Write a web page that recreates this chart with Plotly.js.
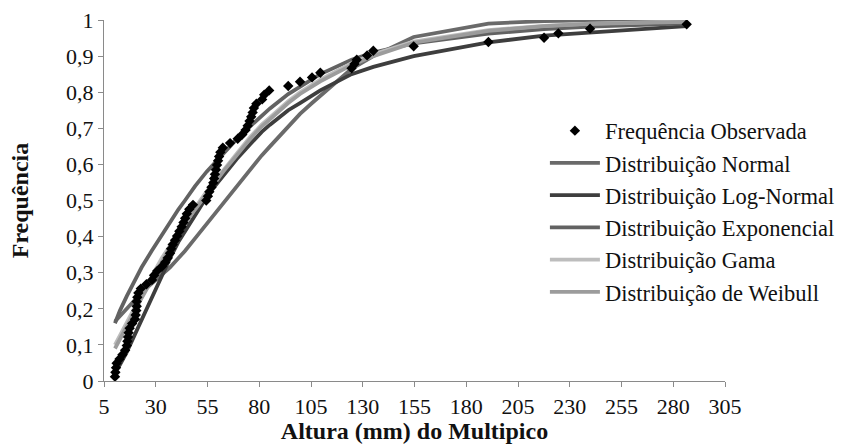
<!DOCTYPE html>
<html>
<head>
<meta charset="utf-8">
<script src="https://cdn.plot.ly/plotly-3.0.1.min.js"></script>
<style>
  html, body { margin: 0; padding: 0; background: #fff; }
  #chart { width: 867px; height: 446px; }
</style>
</head>
<body>
<div id="chart"></div>
<script>
// Observed cumulative frequency of multipico height (mm)
const obsX = [10.3, 10.5, 10.8, 11.1, 12.5, 13.9, 15.2, 16.0, 16.3, 16.6,
              16.9, 17.4, 18.6, 20.0, 20.3, 20.6, 20.8, 20.8, 21.1, 21.6,
              22.8, 25.5, 28.2, 29.2, 30.7, 33.0, 34.6, 35.8, 36.9, 37.4,
              38.2, 39.3, 40.3, 41.4, 42.5, 43.4, 44.2, 45.0, 46.2, 48.0,
              54.4, 55.2, 55.9, 56.9, 57.8, 58.2, 58.6, 59.1, 59.6, 60.1,
              60.6, 61.2, 62.4, 65.9, 69.6, 71.8, 73.4, 74.4, 75.3, 76.1,
              76.8, 77.4, 78.6, 81.4, 82.4, 84.8, 94.0, 99.7, 105.5, 109.5,
              124.6, 126.0, 127.1, 132.1, 135.1, 154.6, 190.7, 217.6, 224.5, 239.8,
              286.5];
const obsY = [0.012, 0.024, 0.037, 0.049, 0.061, 0.073, 0.085, 0.098, 0.110, 0.122,
              0.134, 0.146, 0.159, 0.171, 0.183, 0.195, 0.207, 0.220, 0.232, 0.244,
              0.256, 0.268, 0.280, 0.293, 0.305, 0.317, 0.329, 0.341, 0.354, 0.366,
              0.378, 0.390, 0.402, 0.415, 0.427, 0.439, 0.451, 0.463, 0.476, 0.488,
              0.500, 0.512, 0.524, 0.537, 0.549, 0.561, 0.573, 0.585, 0.598, 0.610,
              0.622, 0.634, 0.646, 0.659, 0.671, 0.683, 0.695, 0.707, 0.720, 0.732,
              0.744, 0.756, 0.768, 0.780, 0.793, 0.805, 0.817, 0.829, 0.841, 0.854,
              0.866, 0.878, 0.890, 0.902, 0.915, 0.927, 0.939, 0.951, 0.963, 0.976,
              0.988];

// Fitted distribution curves, evaluated at a subset of the observed heights
const curveX = [10.3, 12.7, 16.0, 20.0, 23.2, 28.0, 32.9, 36.9, 40.9, 44.1,
                49.0, 54.6, 58.6, 62.6, 69.1, 75.5, 81.2, 85.2, 94.0, 99.7,
                105.5, 109.5, 124.6, 135.1, 154.6, 190.7, 217.6, 239.8, 286.5];
const normalY = [0.165, 0.18, 0.20, 0.225, 0.245, 0.27, 0.295, 0.315, 0.34, 0.36,
                 0.395, 0.435, 0.465, 0.495, 0.54, 0.585, 0.625, 0.65, 0.705, 0.74,
                 0.77, 0.79, 0.865, 0.90, 0.953, 0.99, 0.997, 0.999, 1.0];
const logNormalY = [0.025, 0.045, 0.08, 0.13, 0.17, 0.235, 0.295, 0.34, 0.385, 0.415,
                    0.46, 0.51, 0.54, 0.57, 0.615, 0.655, 0.69, 0.71, 0.75, 0.77,
                    0.79, 0.805, 0.85, 0.87, 0.90, 0.938, 0.957, 0.966, 0.983];
const exponentialY = [0.16, 0.195, 0.235, 0.28, 0.315, 0.36, 0.405, 0.44, 0.475, 0.50,
                      0.54, 0.58, 0.605, 0.63, 0.67, 0.705, 0.735, 0.755, 0.795, 0.815,
                      0.835, 0.85, 0.89, 0.91, 0.935, 0.962, 0.975, 0.982, 0.991];
const gammaY = [0.10, 0.125, 0.16, 0.205, 0.24, 0.29, 0.34, 0.375, 0.41, 0.44,
                0.48, 0.525, 0.555, 0.585, 0.63, 0.675, 0.71, 0.73, 0.775, 0.80,
                0.82, 0.835, 0.88, 0.905, 0.94, 0.972, 0.984, 0.99, 0.996];
const weibullY = [0.09, 0.115, 0.15, 0.195, 0.23, 0.28, 0.33, 0.37, 0.405, 0.435,
                  0.475, 0.52, 0.55, 0.58, 0.625, 0.67, 0.705, 0.725, 0.77, 0.795,
                  0.815, 0.83, 0.875, 0.90, 0.937, 0.97, 0.983, 0.989, 0.995];

const seriesNames = ['Frequência Observada', 'Distribuição Normal', 'Distribuição Log-Normal',
                     'Distribuição Exponencial', 'Distribuição Gama', 'Distribuição de Weibull'];

const FAMILY = 'Liberation Serif';

function curve(y, name, color, rank) {
  return {
    x: curveX, y: y, name: name, type: 'scatter', mode: 'lines',
    line: { color: color, width: 3.8 }, legendrank: rank
  };
}

const traces = [
  curve(normalY, seriesNames[1], '#6a6a6a', 2),
  curve(logNormalY, seriesNames[2], '#3e3e3e', 3),
  curve(exponentialY, seriesNames[3], '#626262', 4),
  curve(gammaY, seriesNames[4], '#bdbdbd', 5),
  curve(weibullY, seriesNames[5], '#9c9c9c', 6),
  {
    x: obsX, y: obsY, name: seriesNames[0], type: 'scatter', mode: 'markers',
    marker: { symbol: 'diamond', size: 8, color: '#000' }, legendrank: 1
  }
];

function axis(extra) {
  return Object.assign({
    showgrid: false, zeroline: false, showline: true,
    linecolor: '#8a8a8a', linewidth: 1.2,
    ticks: 'outside', ticklen: 5, tickcolor: '#8a8a8a', tickwidth: 1.2,
    tickfont: { family: FAMILY, size: 22, color: '#111' }
  }, extra);
}

const layout = {
  width: 867, height: 446,
  font: { family: FAMILY, size: 22, color: '#111' },
  margin: { l: 104, r: 142, t: 20, b: 65 },
  paper_bgcolor: '#fff', plot_bgcolor: '#fff',
  separators: ',.',
  showlegend: true,
  legend: {
    x: 0.71, y: 0.752, xanchor: 'left', yanchor: 'top',
    bgcolor: 'rgba(0,0,0,0)',
    font: { family: FAMILY, size: 22.5, color: '#111' },
    itemwidth: 50, tracegroupgap: 0
  },
  xaxis: axis({
    range: [5, 305], tick0: 5, dtick: 25,
    title: { text: '<b>Altura (mm) do Multipico</b>', font: { family: FAMILY, size: 24, color: '#111' }, standoff: 2 }
  }),
  yaxis: axis({
    range: [0, 1], tick0: 0, dtick: 0.1,
    title: { text: '<b>Frequência</b>', font: { family: FAMILY, size: 24, color: '#111' }, standoff: 30 }
  })
};

Plotly.newPlot('chart', traces, layout, { displayModeBar: false });
</script>
</body>
</html>
